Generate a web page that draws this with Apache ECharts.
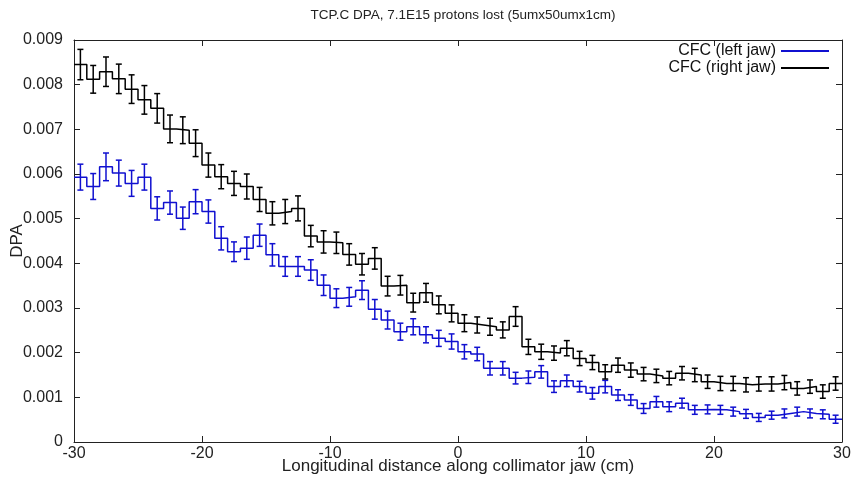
<!DOCTYPE html>
<html>
<head>
<meta charset="utf-8">
<script src="https://cdn.jsdelivr.net/npm/echarts@6/dist/echarts.min.js"></script>
<style>
html,body{margin:0;padding:0;background:#fff;}
#chart{width:856px;height:483px;}
</style>
</head>
<body>
<div id="chart"></div>
<script>
// Bin edges (cm), 1 cm bins from -30 to 30
const binEdges = [-30,-29,-28,-27,-26,-25,-24,-23,-22,-21,-20,-19,-18,-17,-16,-15,-14,-13,-12,-11,
  -10,-9,-8,-7,-6,-5,-4,-3,-2,-1,0,1,2,3,4,5,6,7,8,9,10,11,12,13,14,15,16,17,18,19,20,21,22,23,24,25,26,27,28,29,30];

// CFC (left jaw) - blue
const leftJaw = [0.00593,0.00572,0.00616,0.00602,0.00579,0.00593,0.00523,0.00536,0.00501,0.00538,
  0.00516,0.00456,0.00426,0.00434,0.00463,0.00419,0.00393,0.00393,0.00385,0.00351,
  0.00322,0.00325,0.00340,0.00297,0.00273,0.00247,0.00258,0.00240,0.00232,0.00225,
  0.00202,0.00197,0.00165,0.00165,0.00143,0.00145,0.00157,0.00124,0.00137,0.00124,
  0.00109,0.00124,0.00105,0.00094,0.00075,0.00090,0.00079,0.00087,0.00072,0.00073,
  0.00072,0.00068,0.00063,0.00055,0.00060,0.00064,0.00068,0.00064,0.00062,0.00051];
const leftJawErr = [0.00029,0.00029,0.00031,0.00029,0.00029,0.00029,0.00026,0.00026,0.00025,0.00027,
  0.00026,0.00026,0.00022,0.00025,0.00025,0.00025,0.00022,0.00022,0.00023,0.00023,
  0.00021,0.00021,0.00021,0.00022,0.00020,0.00019,0.00018,0.00018,0.00018,0.00017,
  0.00016,0.00015,0.00015,0.00015,0.00013,0.00014,0.00014,0.00013,0.00013,0.00012,
  0.00013,0.00014,0.00012,0.00012,0.00011,0.00012,0.00011,0.00011,0.00010,0.00010,
  0.00010,0.00010,0.00010,0.00009,0.00009,0.00010,0.00010,0.00010,0.00010,0.00009];

// CFC (right jaw) - black
const rightJaw = [0.00845,0.00812,0.00829,0.00813,0.00790,0.00766,0.00747,0.00701,0.00698,0.00669,
  0.00620,0.00594,0.00579,0.00572,0.00543,0.00512,0.00516,0.00523,0.00461,0.00448,
  0.00446,0.00420,0.00398,0.00411,0.00349,0.00351,0.00312,0.00334,0.00307,0.00288,
  0.00266,0.00262,0.00258,0.00251,0.00281,0.00213,0.00202,0.00199,0.00210,0.00187,
  0.00178,0.00157,0.00172,0.00161,0.00152,0.00148,0.00143,0.00154,0.00150,0.00135,
  0.00131,0.00131,0.00128,0.00130,0.00130,0.00133,0.00120,0.00124,0.00113,0.00131];
const rightJawErr = [0.00034,0.00031,0.00033,0.00033,0.00032,0.00032,0.00033,0.00031,0.00030,0.00030,
  0.00027,0.00027,0.00027,0.00028,0.00027,0.00026,0.00027,0.00028,0.00024,0.00025,
  0.00024,0.00024,0.00024,0.00024,0.00022,0.00022,0.00021,0.00021,0.00020,0.00019,
  0.00019,0.00018,0.00019,0.00018,0.00022,0.00017,0.00017,0.00016,0.00017,0.00016,
  0.00016,0.00016,0.00016,0.00016,0.00015,0.00015,0.00015,0.00015,0.00015,0.00015,
  0.00016,0.00016,0.00016,0.00016,0.00016,0.00016,0.00015,0.00015,0.00015,0.00015];

const xTicks = [-30,-20,-10,0,10,20,30];

const BLUE = '#1010d0';
const BLACK = '#000000';
const FONT = 'Liberation Sans, Arial, sans-serif';

function stepData(vals) {
  const d = vals.map((v, i) => [binEdges[i], v]);
  d.push([binEdges[binEdges.length - 1], vals[vals.length - 1]]);
  return d;
}
function errData(vals, errs) {
  return vals.map((v, i) => [(binEdges[i] + binEdges[i + 1]) / 2, v - errs[i], v + errs[i]]);
}
function errRender(color) {
  return function (params, api) {
    const top = api.coord([api.value(0), api.value(2)]);
    const bot = api.coord([api.value(0), api.value(1)]);
    const hw = 3;
    const st = { stroke: color, lineWidth: 1.5 };
    return {
      type: 'group',
      children: [
        { type: 'line', shape: { x1: top[0], y1: top[1], x2: bot[0], y2: bot[1] }, style: st },
        { type: 'line', shape: { x1: top[0] - hw, y1: top[1], x2: top[0] + hw, y2: top[1] }, style: st },
        { type: 'line', shape: { x1: bot[0] - hw, y1: bot[1], x2: bot[0] + hw, y2: bot[1] }, style: st }
      ]
    };
  };
}

const chart = echarts.init(document.getElementById('chart'), null, { renderer: 'canvas' });
const axisCommon = {
  axisLine: { show: true, onZero: false, lineStyle: { color: '#222', width: 1 } },
  axisTick: { show: true, inside: true, length: 6, lineStyle: { color: '#222' } },
  splitLine: { show: false }
};
chart.setOption({
  animation: false,
  backgroundColor: '#fff',
  title: {
    text: 'TCP.C DPA, 7.1E15 protons lost (5umx50umx1cm)',
    left: 458, top: 3, textAlign: 'center',
    textStyle: { fontFamily: FONT, fontSize: 13.5, fontWeight: 'normal', color: '#222' }
  },
  legend: {
    orient: 'vertical', align: 'right', right: 27, top: 43, padding: 0,
    itemWidth: 48, itemHeight: 2, itemGap: 1,
    icon: 'rect',
    textStyle: { fontFamily: FONT, fontSize: 16, color: '#111', lineHeight: 16 },
    data: [
      { name: 'CFC (left jaw)', itemStyle: { color: BLUE } },
      { name: 'CFC (right jaw)', itemStyle: { color: BLACK } }
    ]
  },
  grid: { left: 74, right: 14, top: 40, bottom: 41, containLabel: false, outerBoundsMode: 'none' },
  xAxis: [
    Object.assign({
      type: 'value', min: -30, max: 30, interval: 10, position: 'bottom',
      name: 'Longitudinal distance along collimator jaw (cm)', nameLocation: 'middle', nameGap: 16,
      nameMoveOverlap: false,
      nameTextStyle: { fontFamily: FONT, fontSize: 17, color: '#222', verticalAlign: 'top' },
      axisLabel: { margin: 4, fontFamily: FONT, fontSize: 16, color: '#222',
        formatter: v => xTicks.indexOf(v) >= 0 ? String(v) : '' }
    }, axisCommon),
    Object.assign({
      type: 'value', min: -30, max: 30, interval: 10, position: 'top',
      axisLabel: { show: false }
    }, axisCommon)
  ],
  yAxis: [
    Object.assign({
      type: 'value', min: 0, max: 0.009, interval: 0.001, position: 'left',
      name: 'DPA', nameLocation: 'middle', nameGap: 48, nameRotate: 90,
      nameMoveOverlap: false,
      nameTextStyle: { fontFamily: FONT, fontSize: 17, color: '#222' },
      axisLabel: { margin: 11, fontFamily: FONT, fontSize: 16, color: '#222',
        formatter: v => v === 0 ? '0' : v.toFixed(3) }
    }, axisCommon),
    Object.assign({
      type: 'value', min: 0, max: 0.009, interval: 0.001, position: 'right',
      axisLabel: { show: false }
    }, axisCommon)
  ],
  series: [
    {
      name: 'CFC (left jaw)', type: 'line', step: 'end', showSymbol: false,
      data: stepData(leftJaw), lineStyle: { color: BLUE, width: 1.5 }, itemStyle: { color: BLUE }, z: 3
    },
    {
      name: 'CFC (left jaw)', type: 'custom', renderItem: errRender(BLUE),
      data: errData(leftJaw, leftJawErr), encode: { x: 0, y: [1, 2] }, itemStyle: { color: BLUE }, z: 3
    },
    {
      name: 'CFC (right jaw)', type: 'line', step: 'end', showSymbol: false,
      data: stepData(rightJaw), lineStyle: { color: BLACK, width: 1.5 }, itemStyle: { color: BLACK }, z: 4
    },
    {
      name: 'CFC (right jaw)', type: 'custom', renderItem: errRender(BLACK),
      data: errData(rightJaw, rightJawErr), encode: { x: 0, y: [1, 2] }, itemStyle: { color: BLACK }, z: 4
    }
  ]
});
</script>
</body>
</html>
